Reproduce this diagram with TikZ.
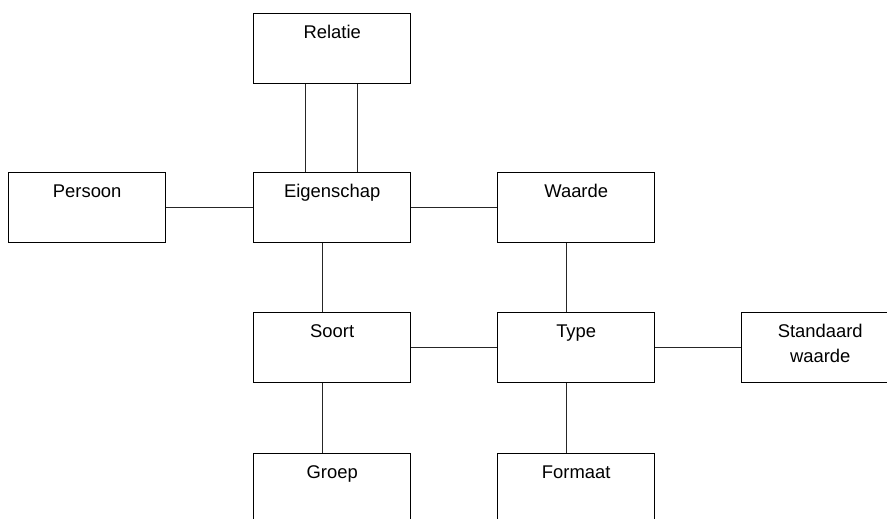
\documentclass[tikz,border=0pt]{standalone}
\usepackage{fontspec}
\setmainfont{Liberation Sans}
\usetikzlibrary{calc}
\begin{document}
\begin{tikzpicture}[x=0.75pt,y=-0.75pt,
  box/.style={draw=black, line width=0.8pt, minimum width=118pt, minimum height=52.5pt,
    inner sep=0pt, anchor=north west, align=center, font=\fontsize{13.8pt}{18.75pt}\selectfont,
    text height=18.75pt, text depth=33.75pt},
  box2/.style={box, text height=37.5pt, text depth=15pt},
  conn/.style={draw=black!85, line width=0.75pt}]
\useasboundingbox (0,0) rectangle (887,518);
\clip (0,0) rectangle (887,518);
\node[box] (rel) at (253,13) {Relatie};
\node[box] (per) at (8,172) {Persoon};
\node[box] (eig) at (253,172) {Eigenschap};
\node[box] (waa) at (497,172) {Waarde};
\node[box] (soo) at (253,312) {Soort};
\node[box] (typ) at (497,312) {Type};
\node[box2] (sta) at (741,312) {Standaard\\waarde};
\node[box] (gro) at (253,453) {Groep};
\node[box] (for) at (497,453) {Formaat};
\draw[conn] ($(rel.south west)+(52.5,0)$) -- ($(eig.north west)+(52.5,0)$);
\draw[conn] ($(rel.south west)+(104.5,0)$) -- ($(eig.north west)+(104.5,0)$);
\draw[conn] (per.east) -- (eig.west);
\draw[conn] (eig.east) -- (waa.west);
\draw[conn] ($(eig.south west)+(69.5,0)$) -- ($(soo.north west)+(69.5,0)$);
\draw[conn] ($(waa.south west)+(69.5,0)$) -- ($(typ.north west)+(69.5,0)$);
\draw[conn] (soo.east) -- (typ.west);
\draw[conn] (typ.east) -- (sta.west);
\draw[conn] ($(soo.south west)+(69.5,0)$) -- ($(gro.north west)+(69.5,0)$);
\draw[conn] ($(typ.south west)+(69.5,0)$) -- ($(for.north west)+(69.5,0)$);
\end{tikzpicture}
\end{document}
